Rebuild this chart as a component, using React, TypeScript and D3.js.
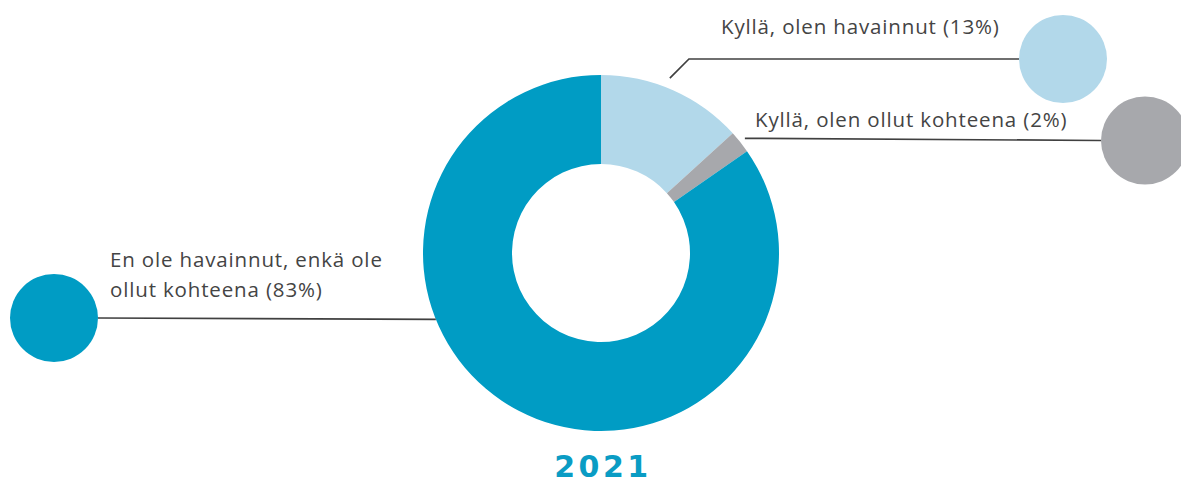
import React from 'react';
import * as d3 from 'd3';

// data
const categories = [
  'Kyllä, olen havainnut',
  'Kyllä, olen ollut kohteena',
  'En ole havainnut, enkä ole ollut kohteena',
];
const values = [13, 2, 83];
const labelLines = [
  ['Kyllä, olen havainnut (13%)'],
  ['Kyllä, olen ollut kohteena (2%)'],
  ['En ole havainnut, enkä ole', 'ollut kohteena (83%)'],
];
const colors = ['#b2d8ea', '#a7a8ac', '#009cc4'];
const title = '2021';

const W = 1181;
const H = 486;
const cx = 601;
const cy = 253;
const outerR = 178;
const innerR = 89;

// where each leader line leaves the ring (fraction of the slice) and where the dot sits
const layout = [
  { at: 0.45, r: 188, dot: [1063, 59], knee: true, text: [721, 34] },
  { at: 0.5, r: 184, dot: [1145, 140.5], knee: false, text: [755, 127] },
  { at: 0.633, r: 178, dot: [54, 318], knee: false, text: [110, 267] },
];
const dotR = 44;

const App = () => {
  const pie = d3.pie<number>().sort(null).value(d => d);
  const arcs = pie(values);
  const arc = d3.arc<d3.PieArcDatum<number>>().innerRadius(innerR).outerRadius(outerR);

  const pt = (angle: number, r: number): [number, number] => [
    cx + r * Math.sin(angle),
    cy - r * Math.cos(angle),
  ];

  return (
    <svg width={W} height={H} style={{ position: 'absolute', left: 0, top: 0 }}>
      <g transform={`translate(${cx},${cy})`}>
        {arcs.map((a, i) => (
          <path key={categories[i]} d={arc(a) || ''} fill={colors[i]} />
        ))}
      </g>
      {arcs.map((a, i) => {
        const l = layout[i];
        const ang = a.startAngle + (a.endAngle - a.startAngle) * l.at;
        const [sx, sy] = pt(ang, l.r);
        const [dx, dy] = l.dot;
        const endX = dx < cx ? dx + dotR : dx - dotR;
        let pts: [number, number][];
        if (l.knee) {
          const kx = sx + (sy - dy);
          pts = [[sx, sy], [kx, dy], [endX, dy]];
        } else {
          pts = [[sx, sy], [endX, dy]];
        }
        return (
          <g key={'lbl' + i}>
            <path d={d3.line()(pts) || ''} fill="none" stroke="#404040" strokeWidth={1.7} />
            <circle cx={dx} cy={dy} r={dotR} fill={colors[i]} />
            <text
              x={l.text[0]}
              y={l.text[1]}
              fontFamily="'Open Sans', sans-serif"
              fontSize={20.5}
              letterSpacing={0.85}
              fill="#444"
            >
              {labelLines[i].map((t, j) => (
                <tspan key={j} x={l.text[0]} dy={j === 0 ? 0 : 30}>
                  {t}
                </tspan>
              ))}
            </text>
          </g>
        );
      })}
      <text
        x={cx + 2}
        y={477}
        textAnchor="middle"
        fontFamily="DejaVu Sans, sans-serif"
        fontWeight="bold"
        fontSize={30}
        letterSpacing={3.5}
        fill="#0a9cc4"
      >
        {title}
      </text>
    </svg>
  );
};

export default App;
